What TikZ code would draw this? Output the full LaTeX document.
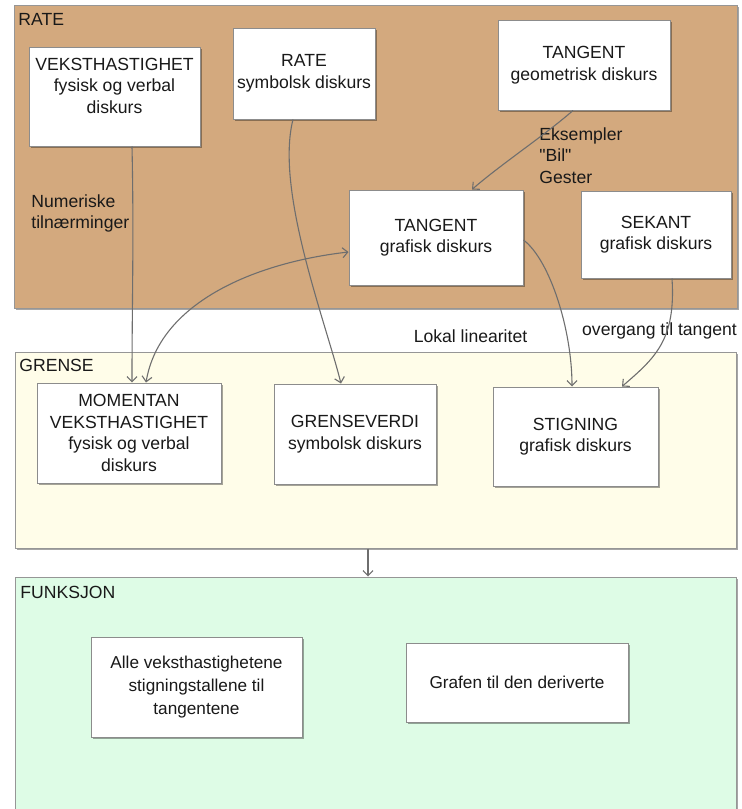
\documentclass[tikz,border=0pt]{standalone}
\usepackage{fontspec}
\setmainfont{Liberation Sans}
\usetikzlibrary{arrows.meta,shadows}
\definecolor{ratefill}{RGB}{211,169,126}
\definecolor{grensefill}{RGB}{255,253,233}
\definecolor{funkfill}{RGB}{222,252,230}
\definecolor{panelline}{RGB}{150,150,150}
\definecolor{cardline}{RGB}{140,140,140}
\definecolor{linkgray}{RGB}{110,110,110}
\definecolor{textc}{RGB}{25,25,25}
\begin{document}
\begin{tikzpicture}[x=0.5pt,y=-0.5pt,
  font=\fontsize{8.8}{10.8}\selectfont, text=textc,
  softshadow/.style={drop shadow={shadow xshift=0.9pt, shadow yshift=-0.9pt, opacity=0.35, fill=black}},
  panel/.style={draw=panelline, line width=0.5pt, rectangle, inner sep=0, softshadow},
  card/.style={draw=cardline, fill=white, line width=0.5pt, rectangle, align=center, inner sep=0, softshadow},
  link/.style={draw=linkgray, line width=0.55pt, -{Straight Barb[length=2.6pt,width=5pt]}},
  biLink/.style={draw=linkgray, line width=0.55pt, {Straight Barb[length=2.6pt,width=5pt]}-{Straight Barb[length=2.6pt,width=5pt]}},
  note/.style={inner sep=0, align=left, anchor=west},
  tag/.style={inner sep=0, anchor=west}]
\useasboundingbox (0,0) rectangle (742,809);
\clip (0,0) rectangle (742,809);

% panels
\node[panel, fill=ratefill, minimum width=361.5pt, minimum height=151.5pt] (ratep) at (375.5,156.5) {};
\node[panel, fill=grensefill, minimum width=360.5pt, minimum height=98pt] (grensep) at (375.5,450) {};
\node[panel, fill=funkfill, minimum width=360.5pt, minimum height=119pt] (funkp) at (375.5,696) {};

\node[tag] (ratelbl) at (18,19) {RATE};
\node[tag] (grenselbl) at (19,365) {GRENSE};
\node[tag] (funklbl) at (20,592) {FUNKSJON};

% RATE cards
\node[card, minimum width=85.5pt, minimum height=49.5pt] (vek) at (114.5,96.5) {VEKSTHASTIGHET\\fysisk og verbal\\diskurs\\\mbox{}};
\node[card, minimum width=71pt, minimum height=45.5pt] (rateb) at (304,73.5) {RATE\\symbolsk diskurs};
\node[card, minimum width=86pt, minimum height=45pt] (tgeo) at (584,65) {TANGENT\\geometrisk diskurs};
\node[card, minimum width=87pt, minimum height=47.5pt] (tgra) at (436,237.5) {TANGENT\\grafisk diskurs};
\node[card, minimum width=75pt, minimum height=43.5pt] (sek) at (656,234.5) {SEKANT\\grafisk diskurs};

% GRENSE cards
\node[card, minimum width=92pt, minimum height=50pt] (mom) at (129,433) {MOMENTAN\\VEKSTHASTIGHET\\fysisk og verbal\\diskurs};
\node[card, minimum width=81pt, minimum height=50pt] (gv) at (355,434) {GRENSEVERDI\\symbolsk diskurs};
\node[card, minimum width=82.5pt, minimum height=49.5pt] (stig) at (575.5,436.5) {STIGNING\\grafisk diskurs};

% FUNKSJON cards
\node[card, minimum width=105.5pt, minimum height=50pt, font=\fontsize{8.6}{11.6}\selectfont] (alle) at (196.5,687) {Alle veksthastighetene\\stigningstallene til\\tangentene};
\node[card, minimum width=111pt, minimum height=39.5pt, font=\fontsize{8.6}{11.6}\selectfont] (graf) at (517,682.5) {Grafen til den deriverte};

% labels on the links
\node[note] (numlbl) at (31,213.5) {Numeriske\\tilnærminger};
\node[note] (ekslbl) at (539,155.5) {Eksempler\\\textquotedbl Bil\textquotedbl\\Gester};
\node[inner sep=0] (loklbl) at (470.5,336) {Lokal linearitet};
\node[inner sep=0] (overlbl) at (659.5,331) {overgang til tangent};

% links
\draw[link] ([xshift=8.75pt]vek.south) .. controls (134,240) and (132,300) .. ([xshift=1.5pt]mom.north);
\draw[link] ([xshift=-5.5pt]rateb.south) .. controls (275,190) and (325,320) .. ([xshift=-7pt]gv.north);
\draw[biLink] ([xshift=8.5pt]mom.north) .. controls (160,300) and (260,262) .. ([yshift=-7.25pt]tgra.west);
\draw[link] ([xshift=-5.5pt]tgeo.south) .. controls (545,135) and (500,165) .. ([xshift=18pt]tgra.north);
\draw[link] ([yshift=-1.25pt]tgra.east) .. controls (550,260) and (572,330) .. ([xshift=-1.75pt]stig.north);
\draw[link] ([xshift=8pt]sek.south) .. controls (676,340) and (655,358) .. ([xshift=23.25pt]stig.north);
\draw[link] ([xshift=-3.75pt]grensep.south) -- ([xshift=-3.75pt]funkp.north);
\end{tikzpicture}
\end{document}
